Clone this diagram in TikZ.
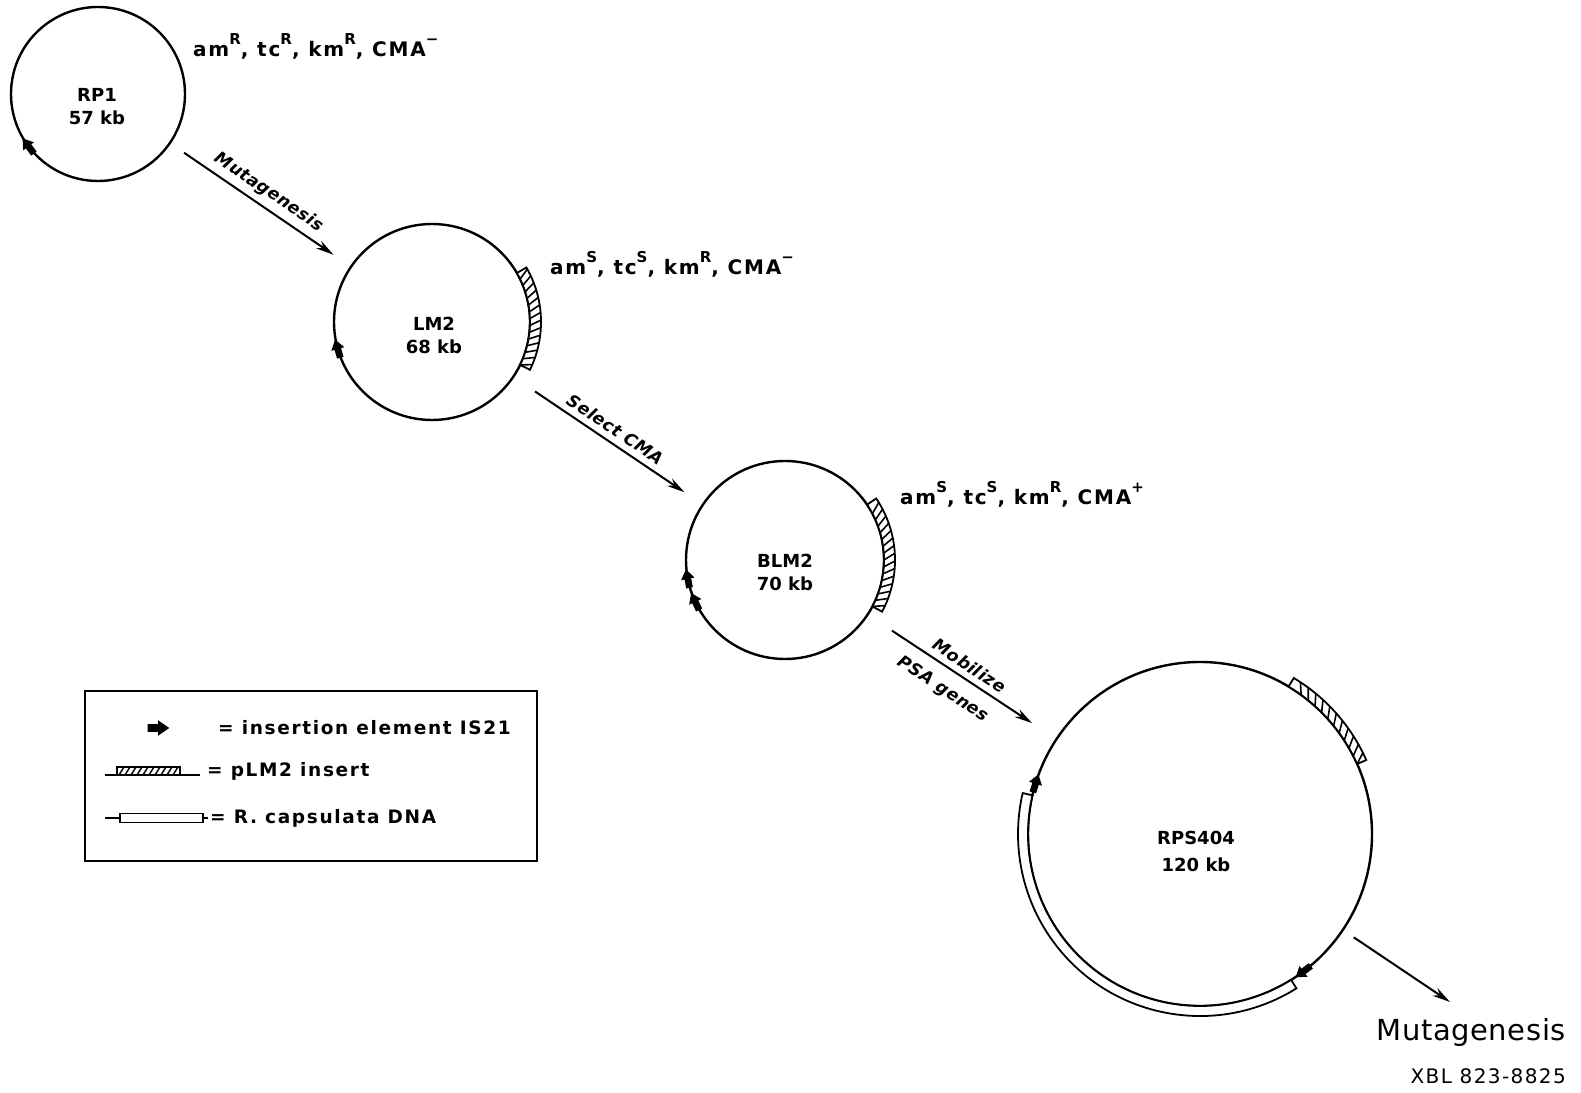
\documentclass[tikz,border=0pt]{standalone}
\usepackage{fontspec}
\setmainfont{DejaVu Sans}
\newfontfamily\nmf{DejaVu Sans}
\newfontfamily\lbl{DejaVu Sans}[LetterSpace=9]
\newfontfamily\stf{DejaVu Sans}[LetterSpace=3]
\newfontfamily\plainf{DejaVu Sans}[LetterSpace=2]
\newfontfamily\xblf{DejaVu Sans}[LetterSpace=7]
\usetikzlibrary{arrows.meta}
\newcommand\sups[1]{\raisebox{0.6em}{\fontsize{15}{15}\selectfont #1}}
\begin{document}
\begin{tikzpicture}[x=1pt,y=1pt,
  plasmid/.style={circle,draw,line width=2.4pt,inner sep=0pt},
  ctext/.style={font=\nmf\bfseries\fontsize{18}{23}\selectfont,align=center,inner sep=0pt},
  markers/.style={font=\lbl\bfseries\fontsize{20}{24}\selectfont,inner sep=0pt},
  legtext/.style={font=\lbl\bfseries\fontsize{18.5}{22}\selectfont,inner sep=0pt,anchor=west},
  flow/.style={line width=2pt,-{Stealth[length=18pt,width=9pt]}},
  steplbl/.style={font=\stf\bfseries\itshape\fontsize{17}{20}\selectfont,sloped,inner sep=0pt},
  band/.style={line width=1.8pt,fill=white},
  stripe/.style={line width=1.6pt},
  isel/.pic={\fill (-7,-2.6) -- (0,-2.6) -- (0,-5.2) -- (7.5,0) -- (0,5.2) -- (0,2.6) -- (-7,2.6) -- cycle;}
]
\useasboundingbox (0,0) rectangle (1581,1092);
\fill[white] (0,0) rectangle (1581,1092);

% plasmids
\node[plasmid,minimum size=174pt] (rp1) at (98,998) {};
\node[plasmid,minimum size=196pt] (lm2) at (432,770) {};
\node[plasmid,minimum size=198pt] (blm2) at (785,532) {};
\node[plasmid,minimum size=344pt] (rps) at (1200,258) {};

% names
\node[ctext] (rp1name) at (97,985) {RP1\\57 kb};
\node[ctext] (lm2name) at (434,757) {LM2\\68 kb};
\node[ctext] (blm2name) at (785,520) {BLM2\\70 kb};
\node[ctext,font=\nmf\bfseries\fontsize{18}{27}\selectfont] (rpsname) at (1196,241) {RPS404\\120 kb};

% markers
\node[markers,anchor=base west] (rp1m) at (193,1035) {am\sups{R}, tc\sups{R}, km\sups{R}, CMA\sups{−}};
\node[markers,anchor=base west] (lm2m) at (550,817) {am\sups{S}, tc\sups{S}, km\sups{R}, CMA\sups{−}};
\node[markers,anchor=base west] (blm2m) at (900,587) {am\sups{S}, tc\sups{S}, km\sups{R}, CMA\sups{+}};

% inserts
\begin{scope}[shift={(lm2.center)}]
  \draw[band] (30:98pt) arc[start angle=30,end angle=-26,radius=98pt] -- (-26:109pt) arc[start angle=-26,end angle=30,radius=109pt] -- cycle;
  \foreach \a in {-26,-22,...,26} \draw[stripe] (\a:98pt) -- ({\a+3}:109pt);
  \path (0,0) ++(196:98pt) pic[rotate=106,scale=1.3]{isel};
\end{scope}
\begin{scope}[shift={(blm2.center)}]
  \draw[band] (34:99pt) arc[start angle=34,end angle=-28,radius=99pt] -- (-28:110pt) arc[start angle=-28,end angle=34,radius=110pt] -- cycle;
  \foreach \a in {-28,-24,...,30} \draw[stripe] (\a:99pt) -- ({\a+3.5}:110pt);
  \path (0,0) ++(191:99pt) pic[rotate=101,scale=1.3]{isel};
  \path (0,0) ++(205:99pt) pic[rotate=115,scale=1.3]{isel};
\end{scope}
\begin{scope}[shift={(rps.center)}]
  \draw[band] (59:172pt) arc[start angle=59,end angle=24,radius=172pt] -- (24:182pt) arc[start angle=24,end angle=59,radius=182pt] -- cycle;
  \foreach \a in {24,27,...,56} \draw[stripe] (\a:172pt) -- ({\a+2.5}:182pt);
  \draw[band] (167:172pt) arc[start angle=167,end angle=302,radius=172pt] -- (302:182pt) arc[start angle=302,end angle=167,radius=182pt] -- cycle;
  \path (0,0) ++(163:172pt) pic[rotate=73,scale=1.3]{isel};
  \path (0,0) ++(307:172pt) pic[rotate=217,scale=1.3]{isel};
\end{scope}
\path (rp1.center) ++(217:87pt) pic[rotate=127,scale=1.3]{isel};

% steps
\draw[flow,shorten <=16pt,shorten >=20pt] (rp1) -- node[steplbl,above=6pt] {Mutagenesis} (lm2);
\draw[flow,shorten <=25pt,shorten >=21pt] (lm2) -- node[steplbl,above=6pt] {Select CMA} (blm2);
\draw[flow,shorten <=28pt,shorten >=28pt] (blm2) -- node[steplbl,above=6pt] {Mobilize} node[steplbl,below=12pt,pos=0.46] {PSA genes} (rps);
\coordinate (mutend) at (1450,90);
\draw[flow,shorten <=12pt] (rps) -- (mutend);
\node[font=\plainf\fontsize{29}{30}\selectfont,anchor=base east,inner sep=0pt] (mutlbl) at (1566,52) {Mutagenesis};
\node[font=\xblf\fontsize{20}{22}\selectfont,anchor=base east,inner sep=0pt] (xbl) at (1566,9) {XBL 823-8825};

% legend
\node[draw,line width=2pt,minimum width=452pt,minimum height=170pt,inner sep=0pt,anchor=south west] (legend) at (84,230) {};
\pic[scale=1.5] at (158,364) {isel};
\node[legtext] (leg1) at (218,364) {= insertion element IS21};
\draw[line width=1.6pt] (105,317) -- (200,317);
\draw[line width=1.6pt] (117,317) rectangle (180,325);
\foreach \x in {119,125,...,173} \draw[line width=1.4pt] (\x,317) -- (\x+5,325);
\node[legtext] (leg2) at (207,321) {= pLM2 insert};
\draw[line width=1.6pt] (105,274) -- (208,274);
\draw[line width=1.6pt,fill=white] (120,269.5) rectangle (203,278.5);
\node[legtext] (leg3) at (210,274) {= R. capsulata DNA};
\end{tikzpicture}
\end{document}
